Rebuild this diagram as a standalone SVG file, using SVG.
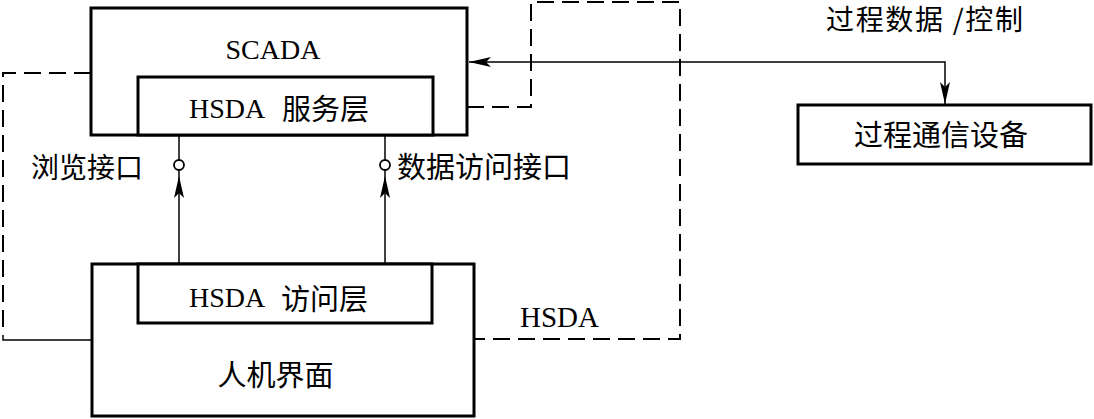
<svg xmlns="http://www.w3.org/2000/svg" width="1094" height="419" viewBox="0 0 1094 419">
<style>
.box{fill:#fff;stroke:#000;stroke-width:3}
.thin{fill:none;stroke:#000;stroke-width:1.5}
.ring{fill:#fff;stroke:#000;stroke-width:1.8}
.dash{fill:none;stroke:#000;stroke-width:2;stroke-dasharray:17 8}
.lat{font-family:"Liberation Serif","Noto Sans CJK SC",serif;font-size:28px;fill:#000}
.cjk{font-family:"Noto Sans CJK SC",sans-serif;font-size:28px;fill:#000}
</style>
<defs>
<marker id="arr" markerUnits="userSpaceOnUse" viewBox="-24 -7 26 14" refX="0" refY="0" markerWidth="26" markerHeight="14" orient="auto-start-reverse">
<path d="M0,0 L-22,-5 L-17,0 L-22,5 Z" fill="#000"/>
</marker>
</defs>
<rect width="1094" height="419" fill="#fff"/>
<g id="connectors">
<path class="dash" d="M91,73 H3 V335"/>
<path class="thin" d="M3,335 V340 H92"/>
<path class="dash" d="M467,107 H531 V2 H680 V339 H474"/>
<path class="thin" d="M945,104 V62 H469" marker-start="url(#arr)" marker-end="url(#arr)"/>
<line class="thin" x1="179" y1="135" x2="179" y2="160"/>
<line class="thin" x1="179" y1="264" x2="179" y2="176" marker-end="url(#arr)"/>
<line class="thin" x1="179" y1="176" x2="179" y2="170"/>
<circle class="ring" cx="179" cy="165" r="5"/>
<line class="thin" x1="385" y1="135" x2="385" y2="160"/>
<line class="thin" x1="385" y1="264" x2="385" y2="176" marker-end="url(#arr)"/>
<line class="thin" x1="385" y1="176" x2="385" y2="170"/>
<circle class="ring" cx="385" cy="165" r="5"/>
</g>
<g id="scada">
<rect class="box" x="91" y="8" width="376" height="127"/>
<text class="lat" x="273" y="59" text-anchor="middle">SCADA</text>
</g>
<g id="hsda-service">
<rect class="box" x="138" y="77" width="295" height="58"/>
<text class="lat" x="189" y="118">HSDA</text>
<text class="cjk" x="282" y="120" style="font-size:29px">服务层</text>
</g>
<g id="hmi">
<rect class="box" x="92" y="264" width="382" height="152"/>
<text class="cjk" x="275.5" y="386" text-anchor="middle" style="font-size:29px">人机界面</text>
</g>
<g id="hsda-access">
<rect class="box" x="138" y="264" width="294" height="59"/>
<text class="lat" x="189" y="307">HSDA</text>
<text class="cjk" x="281" y="310" style="font-size:29px">访问层</text>
</g>
<g id="process-device">
<rect class="box" x="798" y="105" width="293" height="59"/>
<text class="cjk" x="941" y="146" text-anchor="middle" style="font-size:29px">过程通信设备</text>
</g>
<g id="labels">
<text class="cjk" x="31" y="178">浏览接口</text>
<text class="cjk" x="397" y="178" style="font-size:29px">数据访问接口</text>
<text class="cjk" x="826" y="30" textLength="197" lengthAdjust="spacing">过程数据 /控制</text>
<text class="lat" x="520" y="327" style="font-size:29px">HSDA</text>
</g>
</svg>
